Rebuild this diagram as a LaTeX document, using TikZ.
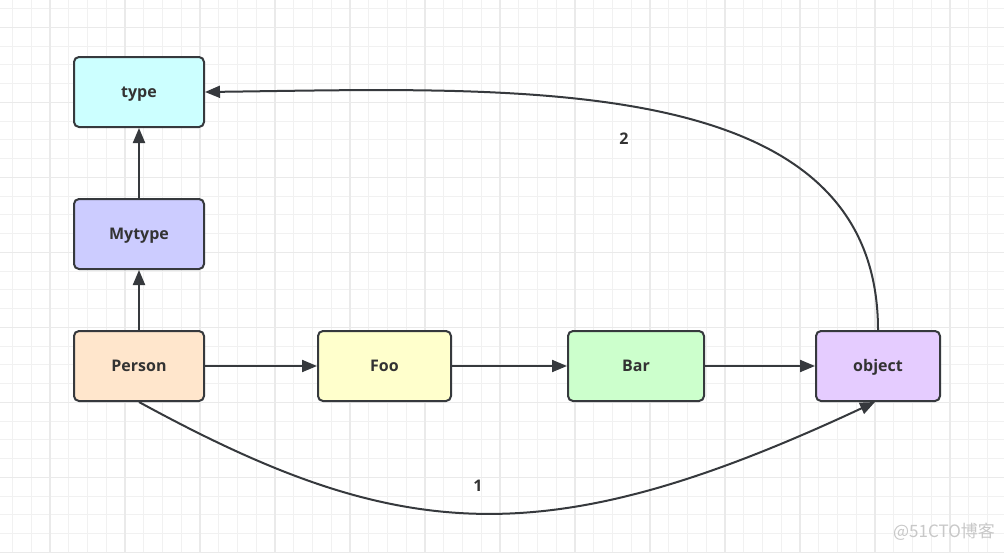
\documentclass[tikz,border=0pt]{standalone}
\usepackage{fontspec}
\setmainfont{Open Sans}
\newfontfamily\cjk{Noto Sans CJK SC}
\usetikzlibrary{arrows.meta}
\definecolor{ink}{HTML}{36393D}
\definecolor{txt}{HTML}{333333}
\definecolor{gminor}{HTML}{F1F1F1}
\definecolor{gmajor}{HTML}{EAEAEA}
\definecolor{ctype}{HTML}{CCFFFF}
\definecolor{cmytype}{HTML}{CCCCFF}
\definecolor{cperson}{HTML}{FFE6CC}
\definecolor{cfoo}{HTML}{FFFFCC}
\definecolor{cbar}{HTML}{CCFFCC}
\definecolor{cobject}{HTML}{E5CCFF}
\tikzset{
  box/.style={draw=ink, line width=2pt, rounded corners=5pt, minimum height=70pt,
    text=txt, font=\fontsize{16}{19}\selectfont\bfseries, inner sep=0pt,
    text height=15pt, text depth=3.5pt},
  edge/.style={draw=ink, line width=2pt, -{Triangle[length=15pt,width=12pt]}},
  lbl/.style={text=txt, font=\fontsize{16}{19}\selectfont\bfseries, inner sep=0pt,
    text height=15pt, text depth=3.5pt},
  minorline/.style={draw=gminor, line width=1pt},
  majorline/.style={draw=gmajor, line width=1.4pt},
}
\begin{document}
\begin{tikzpicture}[x=1pt,y=-1pt]
\useasboundingbox (0,0) rectangle (1004,552);
\fill[white] (0,0) rectangle (1004,552);
% grid
\foreach \i in {0,...,53} {\path[minorline] ({12.5+18.75*\i},0) -- ({12.5+18.75*\i},552);}
\foreach \i in {0,...,29} {\path[minorline] (0,{8.6+18.75*\i}) -- (1004,{8.6+18.75*\i});}
\foreach \i in {0,...,12} {\path[majorline] ({50+75*\i},0) -- ({50+75*\i},552);}
\foreach \i in {0,...,7} {\path[majorline] (0,{27.3+75*\i}) -- (1004,{27.3+75*\i});}
% nodes
\node[box, fill=ctype, minimum width=130pt] (type) at (139,92) {type};
\node[box, fill=cmytype, minimum width=130pt] (mytype) at (139,234) {Mytype};
\node[box, fill=cperson, minimum width=130pt] (person) at (139,366) {Person};
\node[box, fill=cfoo, minimum width=133pt] (foo) at (384.5,366) {Foo};
\node[box, fill=cbar, minimum width=136pt] (bar) at (636,366) {Bar};
\node[box, fill=cobject, minimum width=124pt] (object) at (878,366) {object};
% labels
\node[lbl] (l2) at (624,139) {2};
\node[lbl] (l1) at (478,486) {1};
% edges
\draw[edge] (person) -- (mytype);
\draw[edge] (mytype) -- (type);
\draw[edge] (person) -- (foo);
\draw[edge] (foo) -- (bar);
\draw[edge] (bar) -- (object);
\draw[edge] (object.north) .. controls (878,70) and (520,88) .. (type.east);
\draw[edge] (person.south) .. controls (398,543.5) and (544,556.6) .. ([xshift=-3pt]object.south);
% watermark
\node[text={rgb,255:red,200;green,200;blue,200}, font=\cjk\fontsize{17}{20}\selectfont, inner sep=0pt] (wm) at (944,532) {@51CTO博客};
\end{tikzpicture}
\end{document}
